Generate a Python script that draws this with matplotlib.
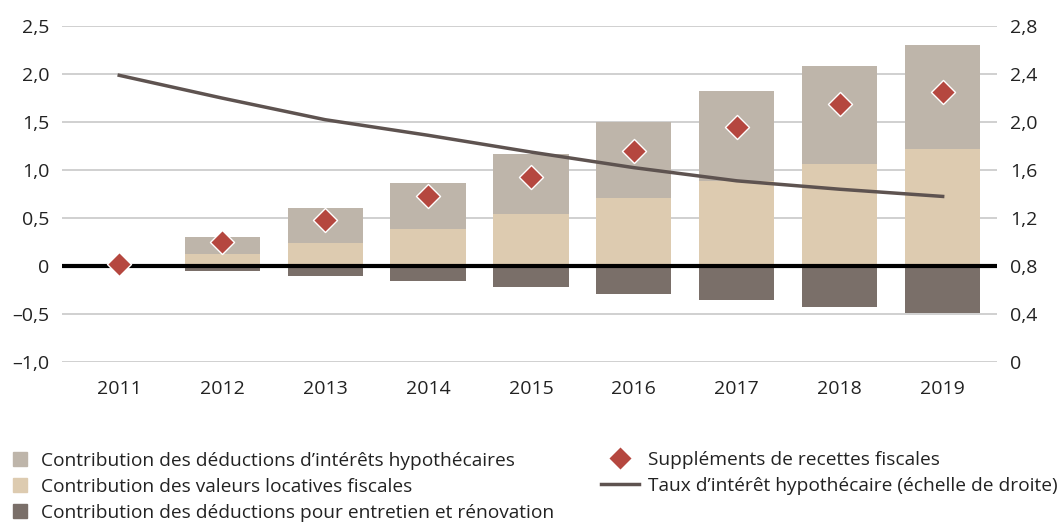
import numpy as np
import matplotlib.pyplot as plt
from matplotlib.patches import Patch
from matplotlib.lines import Line2D

plt.rcParams['font.family'] = ['Open Sans', 'DejaVu Sans']

years = ['2011', '2012', '2013', '2014', '2015', '2016', '2017', '2018', '2019']
valeurs_locatives = [0.0, 0.12, 0.24, 0.39, 0.545, 0.71, 0.89, 1.06, 1.215]
deductions_interets = [0.0, 0.18, 0.36, 0.47, 0.625, 0.79, 0.935, 1.025, 1.09]
deductions_entretien = [0.0, -0.05, -0.105, -0.157, -0.217, -0.294, -0.357, -0.43, -0.493]
supplements = [0.02, 0.25, 0.48, 0.73, 0.93, 1.20, 1.45, 1.69, 1.81]
taux = [2.39, 2.20, 2.02, 1.89, 1.75, 1.62, 1.51, 1.44, 1.38]

left_ticks = [-1.0, -0.5, 0, 0.5, 1.0, 1.5, 2.0, 2.5]
left_labels = ['–1,0', '–0,5', '0', '0,5', '1,0', '1,5', '2,0', '2,5']
right_ticks = [0, 0.4, 0.8, 1.2, 1.6, 2.0, 2.4, 2.8]
right_labels = ['0', '0,4', '0,8', '1,2', '1,6', '2,0', '2,4', '2,8']

c_interets = '#beb5aa'
c_locatives = '#ddcbb0'
c_entretien = '#7a6f69'
c_diamond = '#b5473f'
c_line = '#5e5350'

fig = plt.figure(figsize=(10.62, 5.23), dpi=100)
ax = fig.add_axes([0.058, 0.308, 0.881, 0.642])
x = np.arange(len(years))
w = 0.73

for yv in left_ticks:
    ax.axhline(yv, color='#c4c4c4', lw=1.1, zorder=0)

ax.bar(x, valeurs_locatives, w, color=c_locatives, zorder=2)
ax.bar(x, deductions_interets, w, bottom=valeurs_locatives, color=c_interets, zorder=2)
ax.bar(x, deductions_entretien, w, color=c_entretien, zorder=2)
ax.axhline(0, color='black', lw=3, zorder=3)

ax.set_xlim(-0.56, 8.53)
ax.set_ylim(-1.0, 2.5)
ax.set_yticks(left_ticks)
ax.set_yticklabels(left_labels)
ax.set_xticks(x)
ax.set_xticklabels(years)
ax.tick_params(length=0, labelsize=14, colors='#222222')
ax.tick_params(axis='x', pad=13)
ax.tick_params(axis='y', pad=9)
for s in ax.spines.values():
    s.set_visible(False)

ax2 = ax.twinx()
ax2.set_ylim(0, 2.8)
ax2.set_yticks(right_ticks)
ax2.set_yticklabels(right_labels)
ax2.tick_params(length=0, labelsize=14, colors='#222222', pad=9)
for s in ax2.spines.values():
    s.set_visible(False)
ax2.plot(x, taux, color=c_line, lw=2.5, zorder=4)

ax3 = ax.twinx()
ax3.set_ylim(-1.0, 2.5)
ax3.axis('off')
ax3.scatter(x, supplements, marker='D', s=150, color=c_diamond,
            edgecolors='white', linewidths=1, zorder=5)

h1 = [Patch(color=c_interets), Patch(color=c_locatives), Patch(color=c_entretien)]
l1 = ['Contribution des déductions d\u2019intérêts hypothécaires',
      'Contribution des valeurs locatives fiscales',
      'Contribution des déductions pour entretien et rénovation']
fig.legend(h1, l1, loc='upper left', bbox_to_anchor=(0.012, 0.136), frameon=False,
           fontsize=13.8, handlelength=0.75, handleheight=0.75, handletextpad=0.7,
           labelspacing=0.42, borderpad=0, borderaxespad=0, labelcolor='#222222')

h2 = [Line2D([], [], ls='none', marker='D', ms=12, color=c_diamond, markeredgecolor='white'),
      Line2D([], [], color=c_line, lw=2.5)]
l2 = ['Suppléments de recettes fiscales',
      'Taux d\u2019intérêt hypothécaire (échelle de droite)']
fig.legend(h2, l2, loc='upper left', bbox_to_anchor=(0.566, 0.138), frameon=False,
           fontsize=13.8, handlelength=2.0, handletextpad=0.45,
           labelspacing=0.42, borderpad=0, borderaxespad=0, labelcolor='#222222')

fig.savefig('out.png', dpi=100)
